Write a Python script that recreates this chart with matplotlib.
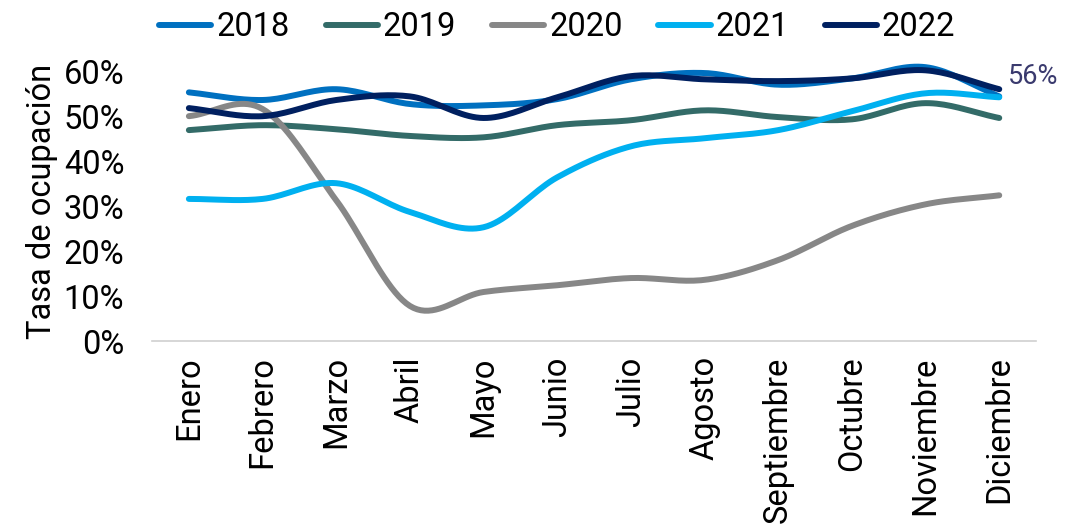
import numpy as np
import matplotlib.pyplot as plt

months = ["Enero", "Febrero", "Marzo", "Abril", "Mayo", "Junio", "Julio",
          "Agosto", "Septiembre", "Octubre", "Noviembre", "Diciembre"]
y2018 = [55.3, 53.6, 56.0, 52.7, 52.4, 53.8, 58.2, 59.6, 57.0, 58.4, 60.9, 54.4]
y2019 = [46.9, 48.0, 47.1, 45.6, 45.3, 48.0, 49.1, 51.3, 49.8, 49.3, 52.9, 49.6]
y2020 = [50.0, 51.6, 31.3, 7.8, 10.9, 12.4, 14.0, 13.6, 18.0, 25.6, 30.4, 32.4]
y2021 = [31.6, 31.6, 35.1, 28.7, 25.3, 36.4, 43.3, 45.1, 46.9, 51.1, 55.1, 54.2]
y2022 = [51.8, 50.0, 53.6, 54.4, 49.6, 54.2, 58.9, 58.2, 57.8, 58.4, 60.2, 56.0]

series = [("2018", y2018, "#0070C0"), ("2019", y2019, "#336B68"),
          ("2020", y2020, "#878787"), ("2021", y2021, "#00B0F0"),
          ("2022", y2022, "#002060")]


def smooth(x, y, n=20):
    # Catmull-Rom style smoothing, similar to Excel's smoothed lines
    x = np.asarray(x, float)
    y = np.asarray(y, float)
    px = np.concatenate([[2 * x[0] - x[1]], x, [2 * x[-1] - x[-2]]])
    py = np.concatenate([[2 * y[0] - y[1]], y, [2 * y[-1] - y[-2]]])
    xs, ys = [], []
    t = np.linspace(0, 1, n, endpoint=False)
    for i in range(1, len(px) - 2):
        for p, out in ((px, xs), (py, ys)):
            p0, p1, p2, p3 = p[i - 1], p[i], p[i + 1], p[i + 2]
            out.extend(0.5 * ((2 * p1) + (-p0 + p2) * t
                              + (2 * p0 - 5 * p1 + 4 * p2 - p3) * t ** 2
                              + (-p0 + 3 * p1 - 3 * p2 + p3) * t ** 3))
    xs.append(x[-1])
    ys.append(y[-1])
    return np.array(xs), np.array(ys)


plt.rcParams["font.family"] = ["Roboto", "DejaVu Sans"]
fs = 23.5
fig = plt.figure(figsize=(10.76, 5.26), dpi=100)
ax = fig.add_axes([0.1413, 0.3517, 0.8216, 0.530])

x = np.arange(len(months))
for name, vals, col in series:
    sx, sy = smooth(x, vals)
    ax.plot(sx, sy, color=col, lw=4.3, solid_capstyle="round", label=name)

ax.annotate("56%", (x[-1], y2022[-1]), xytext=(6, 9), textcoords="offset points",
            fontsize=19.5, color="#3A3A6E", ha="left", va="center")

ax.set_xlim(-0.5, 11.5)
ax.set_ylim(0, 62)
ax.set_yticks(range(0, 61, 10))
ax.set_yticklabels([f"{v}%" for v in range(0, 61, 10)], fontsize=fs)
ax.set_xticks(x)
ax.set_xticklabels(months, rotation=90, fontsize=fs)
ax.tick_params(axis="y", length=0, pad=20)
ax.tick_params(axis="x", length=0, pad=11)
ax.set_ylabel("Tasa de ocupación", fontsize=fs, labelpad=4)
for s in ["top", "right", "left"]:
    ax.spines[s].set_visible(False)
ax.spines["bottom"].set_color("#D0D0D0")
ax.spines["bottom"].set_linewidth(1.2)

fig.legend(loc="upper center", bbox_to_anchor=(0.518, 1.035), ncol=5, frameon=False,
           fontsize=fs, handlelength=1.6, columnspacing=1.1, handletextpad=0.15)

fig.savefig("out.png", dpi=100)
